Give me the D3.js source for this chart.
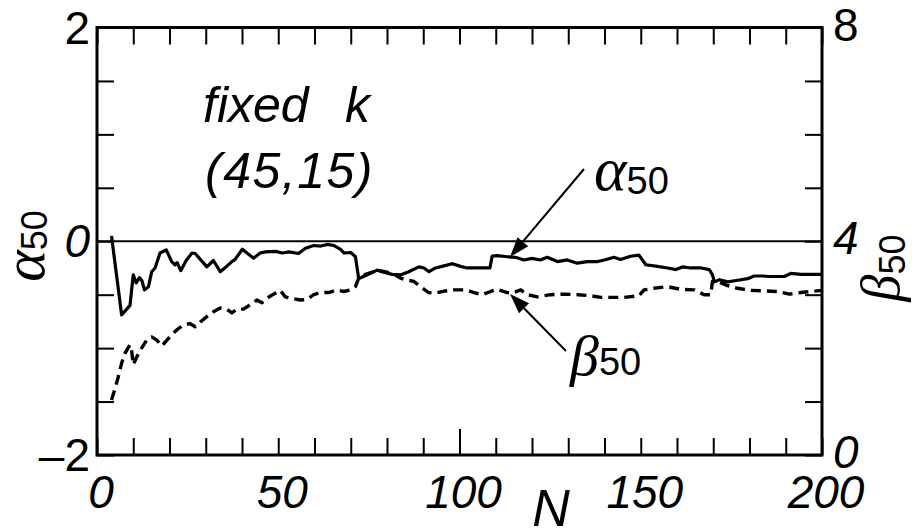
<!DOCTYPE html>
<html>
<head>
<meta charset="utf-8">
<script src="https://cdn.jsdelivr.net/npm/d3@7"></script>
<style>
  html, body { margin: 0; padding: 0; background: #fff; }
  svg { display: block; }
  text { font-family: "Liberation Sans", Arial, sans-serif; fill: #000; }
</style>
</head>
<body>
<svg id="chart" width="917" height="530"></svg>
<script>
// ---------- data ----------
const alphaN = [4,6.8,9.1,10,10.8,11.7,12.4,13.1,14.2,15.1,16,17.4,19.1,20.6,21.5,22.1,23.1,24.6,26.2,27.1,30.3,32.1,34,35.6,37.2,38.1,40.1,43.2,45,46.5,49.3,51.1,53,55.6,57.5,59.8,61.7,63.5,65.4,67.2,68.1,70,71.3,72.2,73.5,75.4,77.3,79.1,81.4,83.7,86,88.8,90.2,91.6,93.4,95.7,98,100.3,102.1,104.9,108.4,109,110.4,113.2,115.4,117.8,120,122.3,124.2,127,129.7,132.5,135.3,138.1,140,142.6,144.4,147.2,149.5,151.4,154.6,157.4,159.7,161.5,163.8,166.6,168.9,169.8,170.3,171.7,174,176.8,179.5,181.3,183.6,185.5,187.8,189.6,191.4,194.2,197,200];
const alphaValues = [0.05,-0.69,-0.60,-0.315,-0.39,-0.34,-0.37,-0.455,-0.425,-0.285,-0.25,-0.11,-0.08,-0.19,-0.22,-0.20,-0.275,-0.18,-0.11,-0.115,-0.24,-0.18,-0.285,-0.24,-0.19,-0.17,-0.075,-0.16,-0.11,-0.10,-0.095,-0.11,-0.10,-0.115,-0.065,-0.04,-0.045,-0.03,-0.04,-0.075,-0.11,-0.105,-0.145,-0.35,-0.33,-0.30,-0.27,-0.29,-0.31,-0.315,-0.285,-0.24,-0.25,-0.285,-0.25,-0.23,-0.21,-0.235,-0.25,-0.25,-0.25,-0.14,-0.135,-0.145,-0.15,-0.175,-0.16,-0.175,-0.15,-0.19,-0.175,-0.205,-0.19,-0.19,-0.175,-0.15,-0.17,-0.14,-0.13,-0.22,-0.235,-0.25,-0.265,-0.24,-0.25,-0.25,-0.265,-0.315,-0.38,-0.36,-0.38,-0.365,-0.35,-0.325,-0.325,-0.33,-0.33,-0.33,-0.30,-0.31,-0.31,-0.31];

const betaN = [4,5,5.9,6.8,7.7,9.1,9.5,10,11,12.3,13.7,15.1,16.5,17.9,19.3,20.6,22,23.8,25.6,27.1,28.5,30.3,32.1,34,35.8,37.2,38.6,40.4,42.2,44.1,45.5,46.8,48.7,50.6,51.9,53.7,56.1,57.9,59.8,61.6,63.9,66.2,68.1,69.9,71.3,72.2,74,76,78,80,82,83.7,85,87.4,89.2,91.5,93.4,96.1,98.4,101.7,104,106.3,108.6,110.4,113.2,114.5,116.9,118.7,121.5,125.2,128.9,132.6,136.2,139,142.6,145.4,149.5,150.9,153.6,157.4,161,164.7,167.5,169.3,169.8,171.2,173.5,176.7,180.4,184.1,187.8,191,194.2,197,200];
const betaValues = [1.03,1.25,1.47,1.72,1.90,2.06,1.98,1.69,1.84,2.0,2.15,2.21,2.15,2.04,2.15,2.25,2.34,2.43,2.46,2.40,2.49,2.59,2.68,2.75,2.73,2.66,2.73,2.73,2.81,2.90,2.85,2.93,3.01,3.08,2.96,2.93,2.90,2.91,3.0,3.04,3.04,3.09,3.06,3.09,3.15,3.31,3.38,3.42,3.45,3.42,3.38,3.31,3.28,3.25,3.15,3.04,3.03,3.07,3.09,3.09,3.04,3.0,3.06,3.10,3.04,3.03,3.09,3.0,2.96,3.0,3.01,3.0,2.98,2.95,2.95,2.95,2.98,3.09,3.12,3.15,3.10,3.09,3.0,3.0,3.25,3.25,3.18,3.12,3.08,3.07,3.06,3.01,3.04,3.06,3.08];

const xTickValues = d3.range(0, 201, 10);
const xLabels = [0, 50, 100, 150, 200];
const alphaTickValues = d3.range(-2, 2.01, 0.5);
const leftLabels = [{v: 2, t: "2", it: false}, {v: 0, t: "0", it: true}, {v: -2, t: "\u20132", it: false}];
const rightLabels = [{v: 8, t: "8", it: false}, {v: 4, t: "4", it: true}, {v: 0, t: "0", it: true}];

// ---------- layout ----------
const svg = d3.select("#chart");
const L = 97, R = 822, T = 27.5, B = 455;
const x = d3.scaleLinear().domain([0, 200]).range([L, R]);
const yA = d3.scaleLinear().domain([-2, 2]).range([B, T]);
const yB = d3.scaleLinear().domain([0, 8]).range([B, T]);

// ticks via d3 axes (inward)
const gBottom = svg.append("g").attr("transform", `translate(0,${B})`)
  .call(d3.axisBottom(x).tickValues(xTickValues).tickSize(-17).tickFormat(""));
gBottom.selectAll(".tick line").filter(d => d === 100).attr("y2", -26);
const gTop = svg.append("g").attr("transform", `translate(0,${T})`)
  .call(d3.axisTop(x).tickValues(xTickValues).tickSize(-17).tickFormat(""));
const gLeft = svg.append("g").attr("transform", `translate(${L},0)`)
  .call(d3.axisLeft(yA).tickValues(alphaTickValues).tickSize(-17).tickFormat(""));
const gRight = svg.append("g").attr("transform", `translate(${R},0)`)
  .call(d3.axisRight(yA).tickValues(alphaTickValues).tickSize(-17).tickFormat(""));
[gBottom, gTop, gLeft, gRight].forEach(g => {
  g.select(".domain").remove();
  g.selectAll(".tick line").attr("stroke", "#000").attr("stroke-width", 2);
});

// zero line
svg.append("line").attr("x1", L).attr("x2", R).attr("y1", yA(0)).attr("y2", yA(0))
  .attr("stroke", "#000").attr("stroke-width", 2);

// data lines
const clip = svg.append("clipPath").attr("id", "clip").append("rect")
  .attr("x", L).attr("y", T).attr("width", R - L).attr("height", B - T);
const alphaData = alphaN.map((n, i) => [n, alphaValues[i]]);
const betaData = betaN.map((n, i) => [n, betaValues[i]]);
svg.append("path").datum(betaData)
  .attr("clip-path", "url(#clip)")
  .attr("fill", "none").attr("stroke", "#000").attr("stroke-width", 3.4)
  .attr("stroke-dasharray", "10,6").attr("stroke-linejoin", "round")
  .attr("d", d3.line().x(d => x(d[0])).y(d => yB(d[1])));
svg.append("path").datum(alphaData)
  .attr("clip-path", "url(#clip)")
  .attr("fill", "none").attr("stroke", "#000").attr("stroke-width", 3.2)
  .attr("stroke-linejoin", "round")
  .attr("d", d3.line().x(d => x(d[0])).y(d => yA(d[1])));

// frame
svg.append("rect").attr("x", L).attr("y", T).attr("width", R - L).attr("height", B - T)
  .attr("fill", "none").attr("stroke", "#000").attr("stroke-width", 3);

// tick labels
const FS = 46;
svg.selectAll(".xl").data(xLabels).enter().append("text")
  .attr("x", d => x(d) + 4).attr("y", 508)
  .attr("text-anchor", "middle").attr("font-size", FS).attr("font-style", "italic")
  .text(d => d);
svg.selectAll(".ll").data(leftLabels).enter().append("text")
  .attr("x", 90).attr("y", d => yA(d.v) + 16)
  .attr("text-anchor", "end").attr("font-size", FS)
  .attr("font-style", d => d.it ? "italic" : "normal")
  .text(d => d.t);
svg.selectAll(".rl").data(rightLabels).enter().append("text")
  .attr("x", 833).attr("y", d => yB(d.v) + 13)
  .attr("text-anchor", "start").attr("font-size", FS)
  .attr("font-style", d => d.it ? "italic" : "normal")
  .text(d => d.t);

// axis titles
svg.append("text").attr("x", 551).attr("y", 526).attr("text-anchor", "middle")
  .attr("font-size", 52).attr("font-style", "italic").text("N");

const aTitle = svg.append("text").attr("transform", "translate(44,246) rotate(-90)")
  .attr("text-anchor", "middle");
aTitle.append("tspan").attr("font-family", "Liberation Serif, serif").attr("font-style", "italic")
  .attr("font-size", 60).text("\u03b1");
aTitle.append("tspan").attr("font-size", 36).attr("dy", 3).text("50");

const bTitle = svg.append("text").attr("transform", "translate(899,268) rotate(-90)")
  .attr("text-anchor", "middle");
bTitle.append("tspan").attr("font-family", "Liberation Serif, serif").attr("font-style", "italic")
  .attr("font-size", 54).text("\u03b2");
bTitle.append("tspan").attr("font-size", 36).attr("dy", 6).text("50");

// in-plot text
svg.append("text").attr("x", 203).attr("y", 122).attr("font-size", 50).attr("font-style", "italic")
  .text("fixed").append("tspan").attr("x", 345).text("k");
svg.append("text").attr("x", 205).attr("y", 188).attr("font-size", 50).attr("font-style", "italic")
  .attr("letter-spacing", 1.5).text("(45,15)");

// annotations
const aAnn = svg.append("text").attr("x", 594).attr("y", 190);
aAnn.append("tspan").attr("font-family", "Liberation Serif, serif").attr("font-style", "italic")
  .attr("font-size", 62).text("\u03b1");
aAnn.append("tspan").attr("font-size", 38).attr("dy", 4).text("50");

const bAnn = svg.append("text").attr("x", 570).attr("y", 375);
bAnn.append("tspan").attr("font-family", "Liberation Serif, serif").attr("font-style", "italic")
  .attr("font-size", 58).text("\u03b2");
bAnn.append("tspan").attr("font-size", 38).attr("dy", 0).text("50");

function arrow(x1, y1, x2, y2) {
  const ang = Math.atan2(y2 - y1, x2 - x1);
  const len = 20, w = 7;
  const bx = x2 - len * Math.cos(ang), by = y2 - len * Math.sin(ang);
  svg.append("line").attr("x1", x1).attr("y1", y1).attr("x2", bx).attr("y2", by)
    .attr("stroke", "#000").attr("stroke-width", 2);
  const px = -Math.sin(ang) * w, py = Math.cos(ang) * w;
  svg.append("path").attr("d", `M${x2},${y2}L${bx + px},${by + py}L${bx - px},${by - py}Z`)
    .attr("fill", "#000");
}
arrow(584, 169, 510, 257);
arrow(566, 351, 510, 294);
</script>
</body>
</html>
